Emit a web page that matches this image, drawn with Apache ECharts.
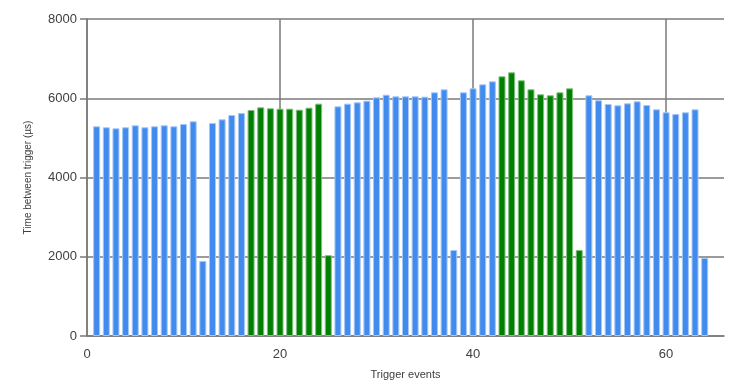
<!DOCTYPE html>
<html><head><meta charset="utf-8">
<script src="https://cdn.jsdelivr.net/npm/echarts@6/dist/echarts.min.js"></script>
<style>html,body{margin:0;padding:0;background:#fff}#c{width:736px;height:391px}</style>
</head><body><div id="c"></div>
<script>
const events = [];
for (let i = 1; i <= 64; i++) events.push(i);
const times = [5292,5267,5241,5267,5317,5267,5292,5317,5292,5350,5418,1893,5375,5468,5577,5628,
5703,5771,5746,5737,5737,5712,5763,5864,2040,
5796,5864,5897,5939,6023,6090,6048,6048,6048,6040,6149,6225,2170,6149,6250,6351,6427,
6553,6654,6452,6225,6099,6074,6149,6250,2170,
6074,5948,5855,5822,5872,5923,5830,5720,5645,5603,5645,5720,1968];
// 1 = highlighted (green) group
const groupFlag = [0,0,0,0,0,0,0,0,0,0,0,0,0,0,0,0,
1,1,1,1,1,1,1,1,1,
0,0,0,0,0,0,0,0,0,0,0,0,0,0,0,0,0,
1,1,1,1,1,1,1,1,1,
0,0,0,0,0,0,0,0,0,0,0,0,0];
const xTicks = [0,20,40,60];
const yTicks = [0,2000,4000,6000,8000];

const blueData = [], greenData = [];
events.forEach((e, i) => {
  if (groupFlag[i]) { greenData.push([e, times[i]]); }
  else { blueData.push([e, times[i]]); }
});

const chart = echarts.init(document.getElementById('c'));
const axisColor = '#7a7a7a';
chart.setOption({
  animation: false,
  grid: {left: 87, right: 12, top: 19, bottom: 55},
  xAxis: {
    type: 'value', min: 0, max: 66, interval: 20,
    name: 'Trigger events', nameLocation: 'middle', nameGap: 33,
    nameTextStyle: {fontFamily: 'Liberation Sans', fontSize: 11, color: '#404040'},
    axisLine: {show: true, onZero: false, lineStyle: {color: axisColor, width: 1.5}},
    axisTick: {show: false},
    axisLabel: {fontFamily: 'Liberation Sans', fontSize: 13, color: '#404040', margin: 12,
      formatter: v => xTicks.includes(v) ? String(v) : ''},
    splitLine: {show: true, lineStyle: {color: [axisColor, axisColor, axisColor, axisColor, 'rgba(0,0,0,0)'], width: 1.5}}
  },
  yAxis: {
    type: 'value', min: 0, max: 8000, interval: 2000,
    name: 'Time between trigger (µs)', nameLocation: 'middle', nameGap: 54,
    nameTextStyle: {fontFamily: 'Liberation Sans', fontSize: 10, color: '#404040'},
    axisLine: {show: true, lineStyle: {color: axisColor, width: 1.5}},
    axisTick: {show: true, length: 7, lineStyle: {color: axisColor, width: 1.5}},
    axisLabel: {fontFamily: 'Liberation Sans', fontSize: 13, color: '#404040', margin: 10,
      formatter: v => yTicks.includes(v) ? String(v) : ''},
    splitLine: {show: true, lineStyle: {color: axisColor, width: 1.5}}
  },
  series: [
    {type: 'bar', data: blueData, barWidth: 7, barGap: '-100%',
     itemStyle: {color: '#418aee', borderColor: '#a6c8f7', borderWidth: 1}},
    {type: 'bar', data: greenData, barWidth: 7, barGap: '-100%',
     itemStyle: {color: '#007f00', borderColor: '#80c080', borderWidth: 1}}
  ]
});
</script></body></html>
